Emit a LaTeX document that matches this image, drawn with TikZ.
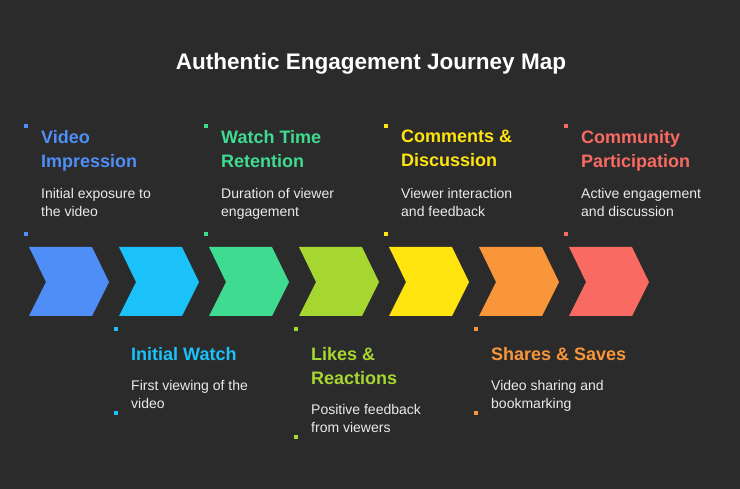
\documentclass[tikz,border=0pt]{standalone}
\usepackage{fontspec}
\setmainfont{Liberation Sans}
\definecolor{bg}{HTML}{2B2B2B}
\definecolor{c1}{HTML}{4F8EF7}
\definecolor{c2}{HTML}{1AC2F9}
\definecolor{c3}{HTML}{3FDB90}
\definecolor{c4}{HTML}{A6D630}
\definecolor{c5}{HTML}{FFE40F}
\definecolor{c6}{HTML}{F9963A}
\definecolor{c7}{HTML}{F96A62}
\begin{document}
\begin{tikzpicture}[x=1pt,y=-1pt,
 ttl/.style={anchor=north west,inner sep=0pt,font=\fontsize{18}{24}\selectfont\bfseries,align=left},
 dsc/.style={anchor=north west,inner sep=0pt,font=\fontsize{14}{18}\selectfont,text=white!92!black,align=left},
 dot/.style={fill=#1,minimum size=3.5pt,inner sep=0pt,draw=none}]
\fill[bg] (0,0) rectangle (740,489);
\useasboundingbox (0,0) rectangle (740,489);
\node[font=\fontsize{22.5}{24}\selectfont\bfseries,text=white] (title) at (371,64) {Authentic Engagement Journey Map};
\foreach \i/\c in {0/c1,1/c2,2/c3,3/c4,4/c5,5/c6,6/c7}{
 \fill[\c] ({29+90*\i},247) -- ({92+90*\i},247) -- ({109+90*\i},282) -- ({92+90*\i},316) -- ({29+90*\i},316) -- ({46+90*\i},282) -- cycle;
}
% top items
\foreach \i/\c/\t/\d in {0/c1/{Video\\Impression}/{Initial exposure to\\the video},
 1/c3/{Watch Time\\Retention}/{Duration of viewer\\engagement},
 2/c5/{Comments \&\\Discussion}/{Viewer interaction\\and feedback},
 3/c7/{Community\\Participation}/{Active engagement\\and discussion}}{
 \node[dot=\c] (ta\i) at ({26+180*\i},126) {};
 \node[dot=\c] (tb\i) at ({26+180*\i},234) {};
 \node[ttl,text=\c] (tt\i) at ({41+180*\i},130) {\t};
 \node[dsc] (td\i) at ({41+180*\i},188) {\d};
}
% bottom items
\node[dot=c2] (ba1) at (116,329) {};
\node[dot=c2] (bb1) at (116,413) {};
\node[ttl,text=c2] (bt1) at (131,347) {Initial Watch};
\node[dsc] (bd1) at (131,380) {First viewing of the\\video};
\node[dot=c4] (ba2) at (296,329) {};
\node[dot=c4] (bb2) at (296,437) {};
\node[ttl,text=c4] (bt2) at (311,347) {Likes \&\\Reactions};
\node[dsc] (bd2) at (311,404) {Positive feedback\\from viewers};
\node[dot=c6] (ba3) at (476,329) {};
\node[dot=c6] (bb3) at (476,413) {};
\node[ttl,text=c6] (bt3) at (491,347) {Shares \& Saves};
\node[dsc] (bd3) at (491,380) {Video sharing and\\bookmarking};
\end{tikzpicture}
\end{document}
